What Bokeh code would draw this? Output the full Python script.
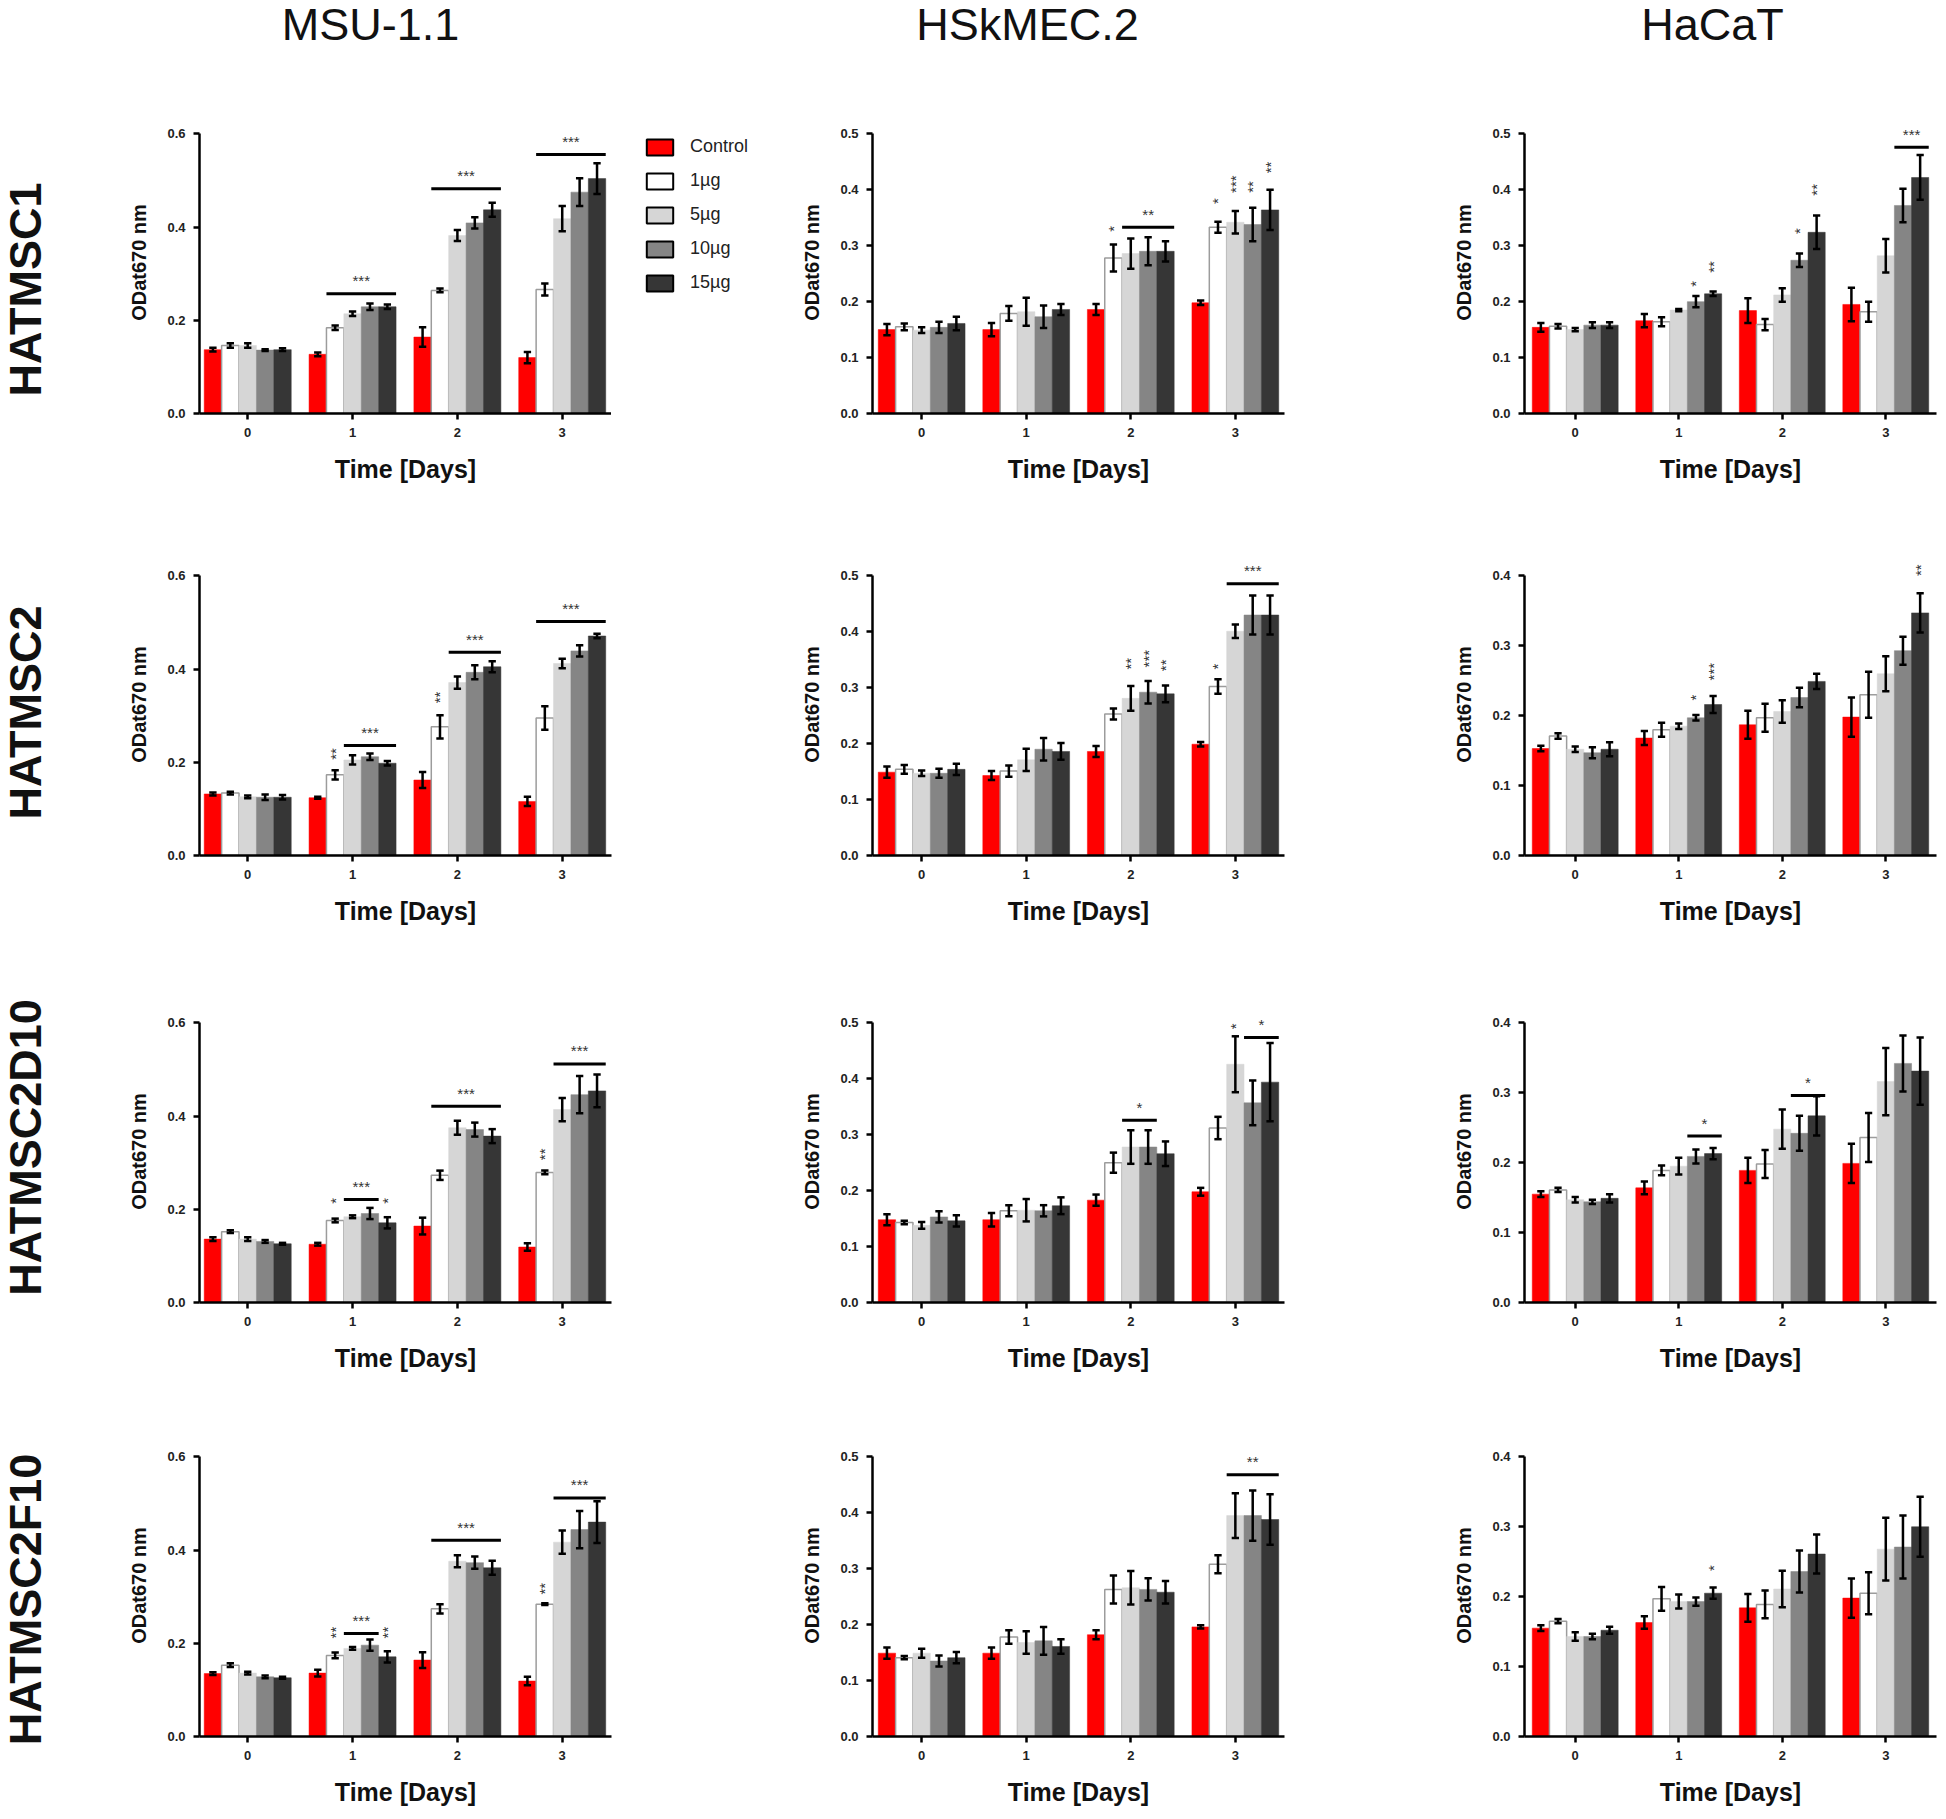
import math
from bokeh.plotting import figure
from bokeh.layouts import column, row
from bokeh.models import Range1d, FixedTicker, PrintfTickFormatter, Legend, LegendItem
from bokeh.core.properties import value
from bokeh.embed import file_html
from bokeh.resources import INLINE

# ------------------------------------------------------------------ data
days = [0, 1, 2, 3]
day_labels = ["0", "1", "2", "3"]
series = ["Control", "1\u00b5g", "5\u00b5g", "10\u00b5g", "15\u00b5g"]
cell_lines = ["MSU-1.1", "HSkMEC.2", "HaCaT"]
stem_cells = ["HATMSC1", "HATMSC2", "HATMSC2D10", "HATMSC2F10"]
x_title = "Time [Days]"
y_title = "ODat670 nm"
yticks_06 = [0.0, 0.2, 0.4, 0.6]
yticks_05 = [0.0, 0.1, 0.2, 0.3, 0.4, 0.5]
yticks_04 = [0.0, 0.1, 0.2, 0.3, 0.4]

# means / SD : [series][day]
msu_c1_mean = [[0.137, 0.127, 0.164, 0.120], [0.146, 0.184, 0.264, 0.266], [0.146, 0.214, 0.382, 0.418], [0.136, 0.229, 0.409, 0.475], [0.137, 0.229, 0.437, 0.504]]
msu_c1_err = [[0.004, 0.004, 0.021, 0.012], [0.005, 0.005, 0.004, 0.013], [0.005, 0.005, 0.012, 0.027], [0.002, 0.007, 0.012, 0.030], [0.003, 0.005, 0.015, 0.033]]
hsk_c1_mean = [[0.150, 0.150, 0.186, 0.198], [0.155, 0.179, 0.278, 0.333], [0.149, 0.182, 0.286, 0.342], [0.154, 0.173, 0.290, 0.338], [0.161, 0.186, 0.290, 0.364]]
hsk_c1_err = [[0.010, 0.012, 0.010, 0.004], [0.006, 0.013, 0.024, 0.010], [0.005, 0.025, 0.027, 0.020], [0.010, 0.020, 0.025, 0.030], [0.012, 0.010, 0.018, 0.036]]
hac_c1_mean = [[0.154, 0.166, 0.184, 0.195], [0.156, 0.164, 0.159, 0.182], [0.150, 0.185, 0.212, 0.282], [0.158, 0.200, 0.274, 0.372], [0.158, 0.214, 0.324, 0.422]]
hac_c1_err = [[0.008, 0.012, 0.022, 0.030], [0.004, 0.008, 0.010, 0.018], [0.003, 0.002, 0.012, 0.030], [0.005, 0.010, 0.012, 0.030], [0.005, 0.004, 0.030, 0.040]]

msu_c2_mean = [[0.132, 0.124, 0.162, 0.116], [0.134, 0.173, 0.276, 0.295], [0.126, 0.205, 0.371, 0.412], [0.125, 0.212, 0.393, 0.439], [0.125, 0.198, 0.405, 0.471]]
msu_c2_err = [[0.003, 0.002, 0.017, 0.010], [0.003, 0.010, 0.025, 0.025], [0.003, 0.010, 0.013, 0.010], [0.006, 0.007, 0.015, 0.012], [0.005, 0.005, 0.012, 0.005]]
hsk_c2_mean = [[0.149, 0.143, 0.186, 0.199], [0.154, 0.151, 0.253, 0.302], [0.147, 0.171, 0.281, 0.401], [0.147, 0.190, 0.292, 0.430], [0.154, 0.186, 0.289, 0.430]]
hsk_c2_err = [[0.010, 0.008, 0.010, 0.004], [0.008, 0.010, 0.010, 0.013], [0.005, 0.020, 0.022, 0.012], [0.008, 0.020, 0.020, 0.035], [0.010, 0.015, 0.015, 0.035]]
hac_c2_mean = [[0.153, 0.168, 0.187, 0.198], [0.171, 0.180, 0.197, 0.230], [0.152, 0.185, 0.206, 0.260], [0.147, 0.197, 0.226, 0.293], [0.152, 0.216, 0.249, 0.347]]
hac_c2_err = [[0.004, 0.010, 0.020, 0.028], [0.004, 0.010, 0.020, 0.033], [0.004, 0.004, 0.016, 0.025], [0.008, 0.004, 0.014, 0.020], [0.010, 0.012, 0.011, 0.028]]

msu_d10_mean = [[0.136, 0.125, 0.164, 0.119], [0.152, 0.176, 0.273, 0.279], [0.136, 0.184, 0.375, 0.414], [0.131, 0.191, 0.371, 0.446], [0.126, 0.171, 0.357, 0.454]]
msu_d10_err = [[0.004, 0.003, 0.018, 0.008], [0.003, 0.004, 0.010, 0.004], [0.004, 0.003, 0.015, 0.025], [0.003, 0.012, 0.015, 0.040], [0.002, 0.012, 0.015, 0.035]]
hsk_d10_mean = [[0.148, 0.148, 0.183, 0.198], [0.143, 0.164, 0.250, 0.312], [0.138, 0.165, 0.278, 0.426], [0.153, 0.164, 0.278, 0.357], [0.146, 0.173, 0.266, 0.394]]
hsk_d10_err = [[0.010, 0.012, 0.010, 0.007], [0.003, 0.010, 0.018, 0.020], [0.006, 0.020, 0.030, 0.050], [0.010, 0.010, 0.030, 0.040], [0.010, 0.015, 0.022, 0.070]]
hac_d10_mean = [[0.155, 0.164, 0.189, 0.199], [0.161, 0.189, 0.198, 0.236], [0.147, 0.195, 0.248, 0.316], [0.144, 0.209, 0.242, 0.342], [0.149, 0.213, 0.267, 0.331]]
hac_d10_err = [[0.004, 0.009, 0.018, 0.028], [0.003, 0.007, 0.020, 0.035], [0.004, 0.012, 0.028, 0.048], [0.003, 0.010, 0.025, 0.040], [0.006, 0.008, 0.028, 0.048]]

msu_f10_mean = [[0.135, 0.136, 0.164, 0.119], [0.153, 0.174, 0.274, 0.284], [0.136, 0.189, 0.376, 0.417], [0.128, 0.196, 0.373, 0.444], [0.126, 0.171, 0.362, 0.460]]
msu_f10_err = [[0.003, 0.007, 0.017, 0.009], [0.004, 0.006, 0.010, 0.002], [0.003, 0.003, 0.013, 0.025], [0.003, 0.012, 0.013, 0.040], [0.002, 0.012, 0.015, 0.045]]
hsk_f10_mean = [[0.149, 0.149, 0.182, 0.196], [0.141, 0.178, 0.263, 0.308], [0.149, 0.168, 0.266, 0.395], [0.135, 0.171, 0.263, 0.395], [0.141, 0.161, 0.258, 0.388]]
hsk_f10_err = [[0.010, 0.010, 0.008, 0.003], [0.003, 0.012, 0.025, 0.016], [0.008, 0.020, 0.030, 0.040], [0.010, 0.025, 0.020, 0.045], [0.010, 0.013, 0.020, 0.045]]
hac_f10_mean = [[0.155, 0.163, 0.184, 0.198], [0.165, 0.197, 0.189, 0.205], [0.143, 0.193, 0.211, 0.268], [0.143, 0.193, 0.236, 0.271], [0.152, 0.205, 0.261, 0.300]]
hac_f10_err = [[0.004, 0.009, 0.020, 0.028], [0.003, 0.017, 0.020, 0.030], [0.006, 0.010, 0.026, 0.045], [0.004, 0.006, 0.030, 0.045], [0.005, 0.008, 0.028, 0.043]]

# significance bars: [day, first series, last series, y, label]
msu_c1_lines = [[1, 1, 4, 0.257, "***"], [2, 1, 4, 0.482, "***"], [3, 1, 4, 0.556, "***"]]
hsk_c1_lines = [[2, 2, 4, 0.333, "**"]]
hac_c1_lines = [[3, 3, 4, 0.476, "***"]]
msu_c2_lines = [[1, 2, 4, 0.236, "***"], [2, 2, 4, 0.436, "***"], [3, 1, 4, 0.502, "***"]]
hsk_c2_lines = [[3, 2, 4, 0.486, "***"]]
hac_c2_lines = []
msu_d10_lines = [[1, 2, 3, 0.221, "***"], [2, 1, 4, 0.421, "***"], [3, 2, 4, 0.512, "***"]]
hsk_d10_lines = [[2, 2, 3, 0.326, "*"], [3, 3, 4, 0.474, "*"]]
hac_d10_lines = [[1, 3, 4, 0.238, "*"], [2, 3, 4, 0.296, "*"]]
msu_f10_lines = [[1, 2, 3, 0.221, "***"], [2, 1, 4, 0.421, "***"], [3, 2, 4, 0.512, "***"]]
hsk_f10_lines = [[3, 2, 4, 0.468, "**"]]
hac_f10_lines = []

# single-bar marks: [day, series, y, label]
msu_c1_marks = []
hsk_c1_marks = [[2, 1, 0.330, "*"], [3, 1, 0.380, "*"], [3, 2, 0.410, "***"], [3, 3, 0.405, "**"], [3, 4, 0.440, "**"]]
hac_c1_marks = [[1, 3, 0.232, "*"], [1, 4, 0.262, "**"], [2, 3, 0.326, "*"], [2, 4, 0.400, "**"]]
msu_c2_marks = [[1, 1, 0.218, "**"], [2, 1, 0.339, "**"]]
hsk_c2_marks = [[2, 2, 0.343, "**"], [2, 3, 0.352, "***"], [2, 4, 0.340, "**"], [3, 1, 0.338, "*"]]
hac_c2_marks = [[1, 3, 0.226, "*"], [1, 4, 0.263, "***"], [3, 4, 0.408, "**"]]
msu_d10_marks = [[1, 1, 0.218, "*"], [1, 4, 0.218, "*"], [3, 1, 0.318, "**"]]
hsk_d10_marks = [[3, 2, 0.494, "*"]]
hac_d10_marks = []
msu_f10_marks = [[1, 1, 0.223, "**"], [1, 4, 0.223, "**"], [3, 1, 0.317, "**"]]
hsk_f10_marks = []
hac_f10_marks = [[1, 4, 0.241, "*"]]

# ------------------------------------------------------------------ style / layout
FONT = "Liberation Sans"
SERIES_FILL = ["#ff0000", "#ffffff", "#d6d6d6", "#858585", "#363636"]
SERIES_LINE = ["#ff0000", "#9c9c9c", "#d6d6d6", "#858585", "#363636"]
OFFSETS = [-0.332, -0.166, 0.0, 0.166, 0.332]
BAR_W = 0.166
CAP = 0.035

LABEL_W = 58
COL_W = [725, 657, 498]
COL_BL = [141, 89, 84]
COL_BR = [172, 156, 2]
XR = [(-0.46, 3.47), (-0.47, 3.47), (-0.49, 3.49)]
TITLE_H = 60
ROW_TOP = [60, 500, 945, 1380]
ROW_H = [440, 445, 435, 430]
AXIS_TOP = [133, 575, 1022, 1456]
AXIS_H = 280
EXT = 0.08                          # head-room above the drawn y axis
EXT_PX = round(AXIS_H * EXT)
FRAME_H = AXIS_H + EXT_PX
ROW_LABEL_Y = [289, 712, 1147, 1599]
COL_TITLE_X = [370, 1027, 1712]
TOTAL_W = LABEL_W + sum(COL_W)
TOTAL_H = TITLE_H + sum(ROW_H)
LEGEND_LOC = (32, 120)              # px from the legend strip's frame bottom-left


def borders(ri):
    bt = AXIS_TOP[ri] - EXT_PX - ROW_TOP[ri]
    bb = ROW_H[ri] - bt - FRAME_H
    return bt, bb


def style_axes(p, yticks):
    p.xaxis.ticker = FixedTicker(ticks=days)
    p.xaxis.major_label_overrides = {d: lab for d, lab in zip(days, day_labels)}
    p.yaxis.ticker = FixedTicker(ticks=yticks)
    p.yaxis.formatter = PrintfTickFormatter(format="%.1f")
    p.yaxis.bounds = (yticks[0], yticks[-1])
    p.xaxis.axis_label = x_title
    p.yaxis.axis_label = y_title
    for ax in p.axis:
        ax.axis_line_width = 2.5
        ax.axis_line_color = "black"
        ax.major_tick_line_width = 2.5
        ax.major_tick_line_color = "black"
        ax.major_tick_out = 6
        ax.major_tick_in = 0
        ax.minor_tick_line_color = None
        ax.major_label_text_font = FONT
        ax.major_label_text_font_style = "bold"
        ax.major_label_text_font_size = "13px"
        ax.major_label_text_color = "#222222"
        ax.major_label_standoff = 8
        ax.axis_label_text_font = FONT
        ax.axis_label_text_font_style = "bold"
        ax.axis_label_text_color = "#111111"
    p.xaxis.axis_label_text_font_size = "25px"
    p.xaxis.axis_label_standoff = 15
    p.yaxis.axis_label_text_font_size = "20px"
    p.yaxis.axis_label_standoff = 14


def make_panel(mean, err, sig_lines, sig_marks, yticks, ci, ri, br):
    bt, bb = borders(ri)
    ymax = yticks[-1]
    width = COL_BL[ci] + (COL_W[ci] - COL_BL[ci] - COL_BR[ci]) + br
    p = figure(width=width, height=ROW_H[ri],
               x_range=Range1d(XR[ci][0], XR[ci][1]), y_range=Range1d(0, ymax * (1 + EXT)),
               output_backend="svg", toolbar_location=None, tools="",
               min_border_left=COL_BL[ci], min_border_right=br,
               min_border_top=bt, min_border_bottom=bb)
    p.outline_line_color = None
    p.xgrid.visible = False
    p.ygrid.visible = False
    for i in range(5):
        xs = [d + OFFSETS[i] for d in days]
        p.vbar(x=xs, top=mean[i], width=BAR_W, bottom=0,
               fill_color=SERIES_FILL[i], line_color=SERIES_LINE[i],
               line_width=1.5 if i == 1 else 0.5)
    ex, elo, ehi = [], [], []
    for i in range(5):
        for j, d in enumerate(days):
            ex.append(d + OFFSETS[i])
            elo.append(mean[i][j] - err[i][j])
            ehi.append(mean[i][j] + err[i][j])
    cx0 = [x - CAP for x in ex]
    cx1 = [x + CAP for x in ex]
    p.segment(x0=ex, y0=elo, x1=ex, y1=ehi, line_color="black", line_width=2.5)
    p.segment(x0=cx0, y0=ehi, x1=cx1, y1=ehi, line_color="black", line_width=2.5)
    p.segment(x0=cx0, y0=elo, x1=cx1, y1=elo, line_color="black", line_width=2.5)

    if sig_lines:
        lx0 = [l[0] + OFFSETS[l[1]] - BAR_W / 2 for l in sig_lines]
        lx1 = [l[0] + OFFSETS[l[2]] + BAR_W / 2 for l in sig_lines]
        ly = [l[3] for l in sig_lines]
        p.segment(x0=lx0, y0=ly, x1=lx1, y1=ly, line_color="black", line_width=3)
        p.text(x=[(a + b) / 2 for a, b in zip(lx0, lx1)], y=ly, text=[l[4] for l in sig_lines],
               text_align="center", text_baseline="middle", y_offset=-13,
               text_font=value(FONT), text_font_size="15px", text_color="#333333")
    if sig_marks:
        p.text(x=[m[0] + OFFSETS[m[1]] for m in sig_marks], y=[m[2] for m in sig_marks],
               text=[m[3] for m in sig_marks], angle=math.pi / 2,
               text_align="center", text_baseline="middle",
               text_font=value(FONT), text_font_size="15px", text_color="#333333")

    style_axes(p, yticks)
    return p


def make_legend_strip(mean, ri, width):
    bt, bb = borders(ri)
    p = figure(width=width, height=ROW_H[ri], x_range=Range1d(0, 1), y_range=Range1d(0, 1),
               output_backend="svg", toolbar_location=None, tools="",
               min_border_left=0, min_border_right=0, min_border_top=bt, min_border_bottom=bb,
               x_axis_location=None, y_axis_location=None)
    p.outline_line_color = None
    p.grid.visible = False
    items = []
    for i in range(5):
        xs = [d + OFFSETS[i] for d in days]
        r = p.vbar(x=xs, top=mean[i], width=BAR_W, bottom=0, fill_color=SERIES_FILL[i],
                   line_color="black", line_width=2, visible=False)
        items.append(LegendItem(label=series[i], renderers=[r]))
    leg = Legend(items=items, location=LEGEND_LOC, glyph_width=33, glyph_height=20,
                 label_height=20, spacing=13, padding=0, margin=0,
                 border_line_color=None, background_fill_alpha=0,
                 inactive_fill_alpha=0,
                 label_text_font=FONT, label_text_font_size="18px",
                 label_standoff=14, label_text_color="#222222")
    p.add_layout(leg)
    return p


def make_row_labels():
    h = TOTAL_H - TITLE_H
    p = figure(width=LABEL_W, height=h, x_range=Range1d(0, LABEL_W),
               y_range=Range1d(TOTAL_H, TITLE_H),
               output_backend="svg", toolbar_location=None, tools="", min_border=0,
               x_axis_location=None, y_axis_location=None)
    p.outline_line_color = None
    p.grid.visible = False
    p.text(x=[25] * len(stem_cells), y=ROW_LABEL_Y, text=stem_cells, angle=math.pi / 2,
           text_align="center", text_baseline="middle",
           text_font=value(FONT), text_font_style="bold", text_font_size="45px",
           text_color="#111111")
    return p


def make_title_strip():
    p = figure(width=TOTAL_W, height=TITLE_H, x_range=Range1d(0, TOTAL_W),
               y_range=Range1d(TITLE_H, 0),
               output_backend="svg", toolbar_location=None, tools="", min_border=0,
               x_axis_location=None, y_axis_location=None)
    p.outline_line_color = None
    p.grid.visible = False
    p.text(x=COL_TITLE_X, y=[24] * len(cell_lines), text=cell_lines,
           text_align="center", text_baseline="middle",
           text_font=value(FONT), text_font_size="45px", text_color="#111111")
    return p


panels = [
    [(msu_c1_mean, msu_c1_err, msu_c1_lines, msu_c1_marks, yticks_06),
     (hsk_c1_mean, hsk_c1_err, hsk_c1_lines, hsk_c1_marks, yticks_05),
     (hac_c1_mean, hac_c1_err, hac_c1_lines, hac_c1_marks, yticks_05)],
    [(msu_c2_mean, msu_c2_err, msu_c2_lines, msu_c2_marks, yticks_06),
     (hsk_c2_mean, hsk_c2_err, hsk_c2_lines, hsk_c2_marks, yticks_05),
     (hac_c2_mean, hac_c2_err, hac_c2_lines, hac_c2_marks, yticks_04)],
    [(msu_d10_mean, msu_d10_err, msu_d10_lines, msu_d10_marks, yticks_06),
     (hsk_d10_mean, hsk_d10_err, hsk_d10_lines, hsk_d10_marks, yticks_05),
     (hac_d10_mean, hac_d10_err, hac_d10_lines, hac_d10_marks, yticks_04)],
    [(msu_f10_mean, msu_f10_err, msu_f10_lines, msu_f10_marks, yticks_06),
     (hsk_f10_mean, hsk_f10_err, hsk_f10_lines, hsk_f10_marks, yticks_05),
     (hac_f10_mean, hac_f10_err, hac_f10_lines, hac_f10_marks, yticks_04)],
]

panel_rows = []
for ri, prow in enumerate(panels):
    figs = []
    for ci, (m, e, sl, sm, yt) in enumerate(prow):
        if ri == 0 and ci == 0:
            figs.append(make_panel(m, e, sl, sm, yt, ci, ri, br=0))
            figs.append(make_legend_strip(m, ri, COL_BR[ci]))
        else:
            figs.append(make_panel(m, e, sl, sm, yt, ci, ri, br=COL_BR[ci]))
    panel_rows.append(row(*figs))

layout = column(make_title_strip(), row(make_row_labels(), column(*panel_rows)))
open("out.html", "w").write(file_html(layout, INLINE))
